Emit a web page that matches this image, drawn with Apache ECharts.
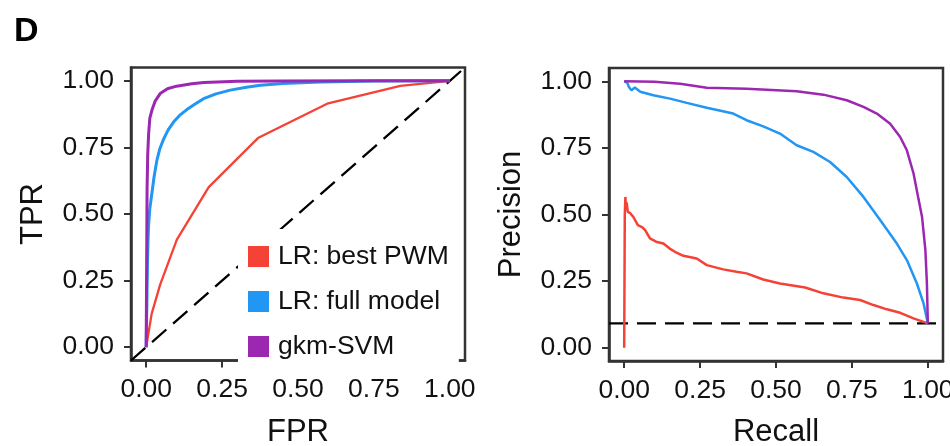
<!DOCTYPE html>
<html>
<head>
<meta charset="utf-8">
<script src="https://cdn.jsdelivr.net/npm/echarts@6/dist/echarts.min.js"></script>
<style>
  html, body { margin: 0; padding: 0; background: #fff; }
  #chart { width: 950px; height: 446px; }
</style>
</head>
<body>
<div id="chart"></div>
<script>
// series names / colours
const seriesNames = ['LR: best PWM', 'LR: full model', 'gkm-SVM']
const seriesColors = ['#F44336', '#2196F3', '#9C27B0']
const tickValues = [0, 0.25, 0.5, 0.75, 1]

// ROC curves [FPR, TPR]
const rocBestPwm = [[0, 0], [0.018, 0.125], [0.046, 0.235], [0.101, 0.404], [0.206, 0.601],
  [0.368, 0.785], [0.596, 0.914], [0.837, 0.981], [1, 1]]
const rocFullModel = [[0, 0], [0.002, 0.15], [0.004, 0.3], [0.006, 0.4], [0.008, 0.46], [0.012, 0.52],
  [0.019, 0.58], [0.026, 0.64], [0.035, 0.7], [0.045, 0.745], [0.057, 0.78], [0.072, 0.815],
  [0.09, 0.845], [0.11, 0.87], [0.134, 0.892], [0.16, 0.912], [0.189, 0.933], [0.23, 0.951],
  [0.277, 0.965], [0.33, 0.976], [0.376, 0.983], [0.45, 0.99], [0.574, 0.996], [0.75, 0.999], [1, 1]]
const rocGkmSvm = [[0, 0], [0.001, 0.2], [0.002, 0.4], [0.003, 0.6], [0.005, 0.72], [0.008, 0.8],
  [0.012, 0.86], [0.019, 0.89], [0.03, 0.925], [0.046, 0.952], [0.07, 0.97], [0.1, 0.98],
  [0.15, 0.989], [0.19, 0.994], [0.3, 0.998], [0.45, 0.999], [0.7, 1], [1, 1]]
const rocChance = [[-0.05, -0.05], [1.05, 1.05]]

// PR curves [Recall, Precision]
const prBestPwm = [[0, 0], [0.002, 0.5], [0.004, 0.566], [0.006, 0.52], [0.008, 0.545], [0.012, 0.51],
  [0.02, 0.505], [0.03, 0.491], [0.045, 0.46], [0.06, 0.452], [0.069, 0.441], [0.085, 0.41],
  [0.105, 0.398], [0.129, 0.391], [0.15, 0.372], [0.167, 0.36], [0.195, 0.345], [0.239, 0.335],
  [0.272, 0.31], [0.326, 0.294], [0.37, 0.285], [0.403, 0.279], [0.458, 0.256], [0.513, 0.241],
  [0.596, 0.226], [0.656, 0.204], [0.722, 0.188], [0.777, 0.179], [0.821, 0.16], [0.865, 0.144],
  [0.909, 0.131], [0.953, 0.11], [1, 0.0915]]
const prFullModel = [[0, 1], [0.01, 0.995], [0.015, 0.98], [0.024, 0.966], [0.035, 0.977],
  [0.053, 0.961], [0.096, 0.948], [0.151, 0.935], [0.206, 0.919], [0.272, 0.901], [0.359, 0.879],
  [0.403, 0.854], [0.458, 0.831], [0.513, 0.804], [0.568, 0.76], [0.623, 0.735], [0.678, 0.697],
  [0.733, 0.641], [0.788, 0.566], [0.843, 0.479], [0.898, 0.391], [0.931, 0.329], [0.964, 0.241],
  [0.986, 0.166], [1, 0.0915]]
const prGkmSvm = [[0, 1], [0.1, 0.998], [0.184, 0.991], [0.272, 0.976], [0.403, 0.972], [0.568, 0.963],
  [0.656, 0.95], [0.733, 0.929], [0.788, 0.904], [0.832, 0.879], [0.876, 0.841], [0.909, 0.791],
  [0.931, 0.741], [0.953, 0.654], [0.97, 0.554], [0.981, 0.491], [0.992, 0.366], [0.997, 0.241],
  [1, 0.0915]]
const prBaseline = [[-0.05, 0.0915], [1.05, 0.0915]]

const font = 'Liberation Sans, Arial, Helvetica, sans-serif'
const chart = echarts.init(document.getElementById('chart'))

function makeAxis(gridIndex, name, isY) {
  return {
    type: 'value',
    gridIndex,
    min: -0.05,
    max: 1.05,
    name,
    nameLocation: 'middle',
    nameGap: isY ? 82 : 56,
    nameTextStyle: { fontFamily: font, fontSize: 31, color: '#111' },
    axisLine: { show: true, onZero: false, lineStyle: { color: '#333', width: 2.5 } },
    splitLine: { show: false },
    axisTick: {
      show: true,
      inside: false,
      length: 7,
      customValues: tickValues,
      lineStyle: { color: '#333', width: 2 }
    },
    axisLabel: {
      customValues: tickValues,
      margin: isY ? 17 : 16,
      fontFamily: font,
      fontSize: 26.5,
      color: '#111',
      formatter: v => v.toFixed(2)
    }
  }
}

function curve(name, idx, data, xi, width) {
  return {
    name,
    type: 'line',
    xAxisIndex: xi,
    yAxisIndex: xi,
    data,
    showSymbol: false,
    symbol: 'none',
    z: 3,
    lineStyle: { color: seriesColors[idx], width },
    itemStyle: { color: seriesColors[idx] }
  }
}

function dashed(data, xi) {
  return {
    type: 'line',
    xAxisIndex: xi,
    yAxisIndex: xi,
    data,
    symbol: 'none',
    silent: true,
    z: 2,
    lineStyle: { color: '#000', width: 2.3, type: [19, 9] }
  }
}

const gridBase = {
  width: 334,
  height: 293,
  show: true,
  borderColor: '#333',
  borderWidth: 2.5,
  outerBoundsMode: 'none'
}

const option = {
  animation: false,
  backgroundColor: '#fff',
  title: {
    text: 'D',
    left: 9,
    top: 10,
    textStyle: { fontFamily: font, fontSize: 34, fontWeight: 'bold', color: '#000' }
  },
  legend: {
    data: seriesNames,
    orient: 'vertical',
    left: 238,
    top: 229,
    padding: [14, 10, 8, 10],
    backgroundColor: '#fff',
    itemWidth: 21,
    itemHeight: 21,
    itemGap: 18,
    icon: 'rect',
    textStyle: { fontFamily: font, fontSize: 26.5, color: '#111', padding: [0, 0, 0, 4] }
  },
  grid: [
    Object.assign({ left: 131, top: 67.5 }, gridBase),
    Object.assign({ left: 609, top: 68 }, gridBase)
  ],
  xAxis: [makeAxis(0, 'FPR', false), makeAxis(1, 'Recall', false)],
  yAxis: [makeAxis(0, 'TPR', true), makeAxis(1, 'Precision', true)],
  series: [
    dashed(rocChance, 0),
    curve(seriesNames[0], 0, rocBestPwm, 0, 2.3),
    curve(seriesNames[1], 1, rocFullModel, 0, 3),
    curve(seriesNames[2], 2, rocGkmSvm, 0, 3),
    dashed(prBaseline, 1),
    curve(seriesNames[0], 0, prBestPwm, 1, 2.5),
    curve(seriesNames[1], 1, prFullModel, 1, 2.5),
    curve(seriesNames[2], 2, prGkmSvm, 1, 2.5)
  ]
}

chart.setOption(option)
</script>
</body>
</html>
